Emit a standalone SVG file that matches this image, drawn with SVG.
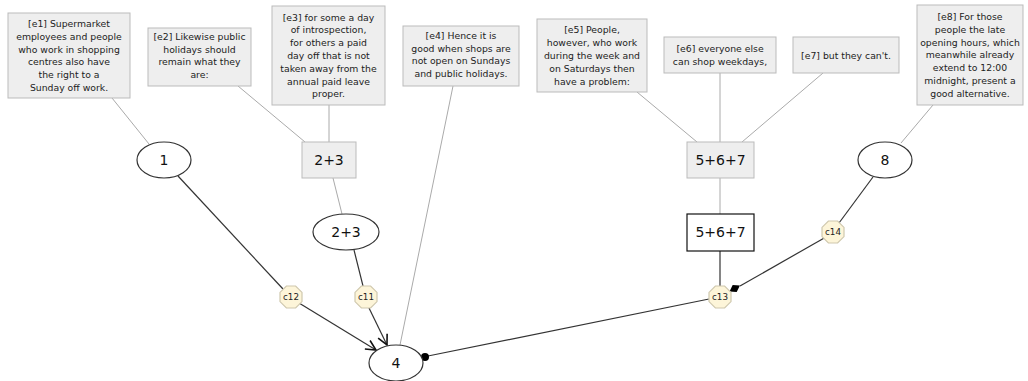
<svg xmlns="http://www.w3.org/2000/svg" width="1028" height="381" viewBox="0 0 1028 381">
<style>
.box{fill:#eeeeee;stroke:#bbbbbb;stroke-width:1}
.bt{font-family:"DejaVu Sans",sans-serif;font-size:9.3px;fill:#222;text-anchor:middle}
.nt{font-family:"DejaVu Sans",sans-serif;font-size:14px;fill:#111;text-anchor:middle}
.ct{font-family:"DejaVu Sans",sans-serif;font-size:8.8px;fill:#222;text-anchor:middle}
.ell{fill:#fff;stroke:#333;stroke-width:1.2}
.wr{fill:#fff;stroke:#111;stroke-width:1.2}
.oct{fill:#fdf5d9;stroke:#cfc8ae;stroke-width:1.2}
.gl{stroke:#aaaaaa;stroke-width:1;fill:none}
.bl{stroke:#333;stroke-width:1.2;fill:none}
</style>
<defs>
<marker id="vee" viewBox="0 0 12 12" refX="11" refY="6" markerWidth="12" markerHeight="12" markerUnits="userSpaceOnUse" orient="auto">
<path d="M1,1 L11,6 L1,11" fill="none" stroke="#111" stroke-width="1.6"/>
</marker>
<polygon id="octa" points="-4.6,-11 4.6,-11 11,-4.6 11,4.6 4.6,11 -4.6,11 -11,4.6 -11,-4.6"/>
</defs>
<g id="connectors">
<line class="gl" x1="112" y1="98" x2="149" y2="144"/>
<line class="gl" x1="238" y1="86" x2="305" y2="142"/>
<line class="gl" x1="329" y1="105" x2="329" y2="142"/>
<line class="gl" x1="333" y1="178" x2="342" y2="214"/>
<line class="gl" x1="453" y1="86" x2="400" y2="345"/>
<line class="gl" x1="637" y1="92" x2="697" y2="142"/>
<line class="gl" x1="720" y1="73" x2="720" y2="142"/>
<line class="gl" x1="823" y1="73" x2="742" y2="142"/>
<line class="gl" x1="933" y1="105" x2="901" y2="143"/>
<line class="gl" x1="720" y1="178" x2="720" y2="214"/>
<line class="bl" x1="178" y1="176" x2="283" y2="289"/>
<line class="bl" x1="299" y1="303" x2="376" y2="350" marker-end="url(#vee)"/>
<line class="bl" x1="354" y1="250" x2="363" y2="286"/>
<line class="bl" x1="369" y1="308" x2="387" y2="345" marker-end="url(#vee)"/>
<line class="bl" x1="720" y1="251" x2="720" y2="286"/>
<line class="bl" x1="873" y1="177" x2="839" y2="223"/>
<line class="bl" x1="826" y1="237" x2="740" y2="286"/>
<polygon points="729.5,291.5 736.7,292 739.9,285.5 732.7,285" fill="#000"/>
<line class="bl" x1="709" y1="299" x2="428" y2="356"/>
<circle cx="425" cy="357" r="4" fill="#000"/>
</g>
<g id="e1">
<rect class="box" x="8" y="13" width="122" height="85"/>
<text class="bt"><tspan x="69" y="27">[e1] Supermarket</tspan><tspan x="69" y="39.8">employees and people</tspan><tspan x="69" y="52.6">who work in shopping</tspan><tspan x="69" y="65.4">centres also have</tspan><tspan x="69" y="78.2">the right to a</tspan><tspan x="69" y="91">Sunday off work.</tspan></text>
</g>
<g id="e2">
<rect class="box" x="148" y="28" width="103" height="58"/>
<text class="bt"><tspan x="199.5" y="40">[e2] Likewise public</tspan><tspan x="199.5" y="52.6">holidays should</tspan><tspan x="199.5" y="65.2">remain what they</tspan><tspan x="199.5" y="77.8">are:</tspan></text>
</g>
<g id="e3">
<rect class="box" x="272" y="6" width="113" height="99"/>
<text class="bt"><tspan x="328.5" y="20.6">[e3] for some a day</tspan><tspan x="328.5" y="33.4">of introspection,</tspan><tspan x="328.5" y="46.2">for others a paid</tspan><tspan x="328.5" y="59">day off that is not</tspan><tspan x="328.5" y="71.8">taken away from the</tspan><tspan x="328.5" y="84.6">annual paid leave</tspan><tspan x="328.5" y="97.4">proper.</tspan></text>
</g>
<g id="e4">
<rect class="box" x="403" y="26" width="116" height="60"/>
<text class="bt"><tspan x="461" y="39">[e4] Hence it is</tspan><tspan x="461" y="51.6">good when shops are</tspan><tspan x="461" y="64.2">not open on Sundays</tspan><tspan x="461" y="76.8">and public holidays.</tspan></text>
</g>
<g id="e5">
<rect class="box" x="537" y="19" width="110" height="73"/>
<text class="bt"><tspan x="592" y="33.4">[e5] People,</tspan><tspan x="592" y="46.2">however, who work</tspan><tspan x="592" y="59">during the week and</tspan><tspan x="592" y="71.8">on Saturdays then</tspan><tspan x="592" y="84.6">have a problem:</tspan></text>
</g>
<g id="e6">
<rect class="box" x="664" y="37" width="112" height="36"/>
<text class="bt"><tspan x="720" y="52">[e6] everyone else</tspan><tspan x="720" y="64.6">can shop weekdays,</tspan></text>
</g>
<g id="e7">
<rect class="box" x="793" y="37" width="106" height="36"/>
<text class="bt" x="846" y="58.5">[e7] but they can't.</text>
</g>
<g id="e8">
<rect class="box" x="917" y="5" width="106" height="100"/>
<text class="bt"><tspan x="970" y="20">[e8] For those</tspan><tspan x="970" y="32.8">people the late</tspan><tspan x="970" y="45.6">opening hours, which</tspan><tspan x="970" y="58.4">meanwhile already</tspan><tspan x="970" y="71.2">extend to 12:00</tspan><tspan x="970" y="84">midnight, present a</tspan><tspan x="970" y="96.8">good alternative.</tspan></text>
</g>
<g id="n1">
<ellipse class="ell" cx="164" cy="160" rx="27" ry="18"/>
<text class="nt" x="164" y="165">1</text>
</g>
<g id="n23a">
<rect class="box" x="302" y="142" width="54" height="36"/>
<text class="nt" x="329" y="165">2+3</text>
</g>
<g id="n23">
<ellipse class="ell" cx="346" cy="232" rx="33" ry="18"/>
<text class="nt" x="346" y="237">2+3</text>
</g>
<g id="n4">
<ellipse class="ell" cx="396" cy="363" rx="27" ry="18"/>
<text class="nt" x="396" y="368">4</text>
</g>
<g id="n567a">
<rect class="box" x="687" y="142" width="67" height="36"/>
<text class="nt" x="720.5" y="165">5+6+7</text>
</g>
<g id="n567">
<rect class="wr" x="687" y="214" width="67" height="37"/>
<text class="nt" x="720.5" y="237">5+6+7</text>
</g>
<g id="n8">
<ellipse class="ell" cx="885" cy="160" rx="27" ry="18"/>
<text class="nt" x="885" y="165">8</text>
</g>
<g id="c12">
<use href="#octa" class="oct" x="291" y="297"/>
<text class="ct" x="291" y="300.2">c12</text>
</g>
<g id="c11">
<use href="#octa" class="oct" x="366" y="297"/>
<text class="ct" x="366" y="300.2">c11</text>
</g>
<g id="c13">
<use href="#octa" class="oct" x="720" y="297"/>
<text class="ct" x="720" y="300.2">c13</text>
</g>
<g id="c14">
<use href="#octa" class="oct" x="833" y="232"/>
<text class="ct" x="833" y="235.2">c14</text>
</g>
</svg>
